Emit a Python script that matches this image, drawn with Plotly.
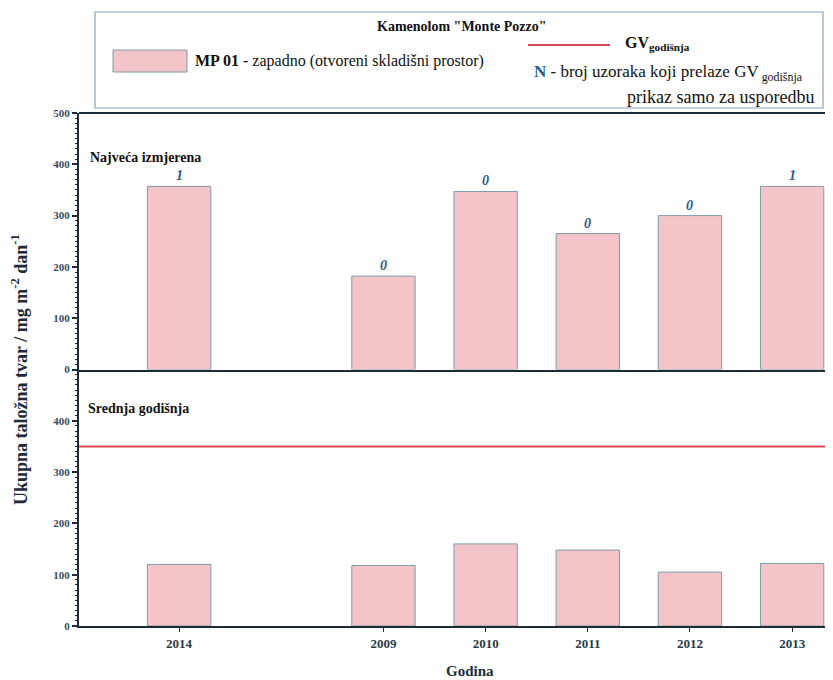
import plotly.graph_objects as go
from plotly.subplots import make_subplots

# ---- data ----
categories = ["2014", " ", "2009", "2010", "2011", "2012", "2013"]
max_values = [357, None, 182, 347, 265, 300, 357]
mean_values = [120, None, 118, 160, 148, 105, 122]
n_exceed = ["1", None, "0", "0", "0", "0", "1"]
gv_annual = 350
y_ticks_top = [0, 100, 200, 300, 400, 500]
y_ticks_bottom = [0, 100, 200, 300, 400]
x_tick_labels = [c for c in categories if c.strip()]

SERIF = "Liberation Serif, Times New Roman, serif"
PINK = "#f3c5c8"
EDGE = "#7f9aa8"
DARK = "#1c2b38"
BLUE = "#2a5a8a"
RED = "#d9474f"

OFF = 8  # page body margin
W, H = 833 - OFF, 680 - OFF
L, T = 79 - OFF, 113 - OFF
R = 0
B = H - (626 - OFF)
PW, PH = W - L - R, H - T - B


def px(x):
    return (x - OFF - L) / PW


def py(y):
    return (H - B - (y - OFF)) / PH


fig = make_subplots(rows=2, cols=1, shared_xaxes=True, vertical_spacing=0)

fig.add_trace(go.Bar(x=categories, y=max_values, width=0.62,
                     marker=dict(color=PINK, line=dict(color=EDGE, width=1)),
                     showlegend=False), row=1, col=1)
fig.add_trace(go.Bar(x=categories, y=mean_values, width=0.62,
                     marker=dict(color=PINK, line=dict(color=EDGE, width=1)),
                     showlegend=False), row=2, col=1)

# GV line in bottom panel
fig.add_shape(type="line", xref="x2 domain", yref="y2", x0=0, x1=1,
              y0=gv_annual, y1=gv_annual, line=dict(color=RED, width=2))

# N labels above top bars (category axes take serial numbers)
for i, (v, n) in enumerate(zip(max_values, n_exceed)):
    if v is None or n is None:
        continue
    fig.add_annotation(x=i, y=v, xref="x", yref="y", text="<b><i>" + n + "</i></b>",
                       showarrow=False, yanchor="bottom", yshift=1,
                       font=dict(family=SERIF, size=14, color=BLUE))

axis_common = dict(
    range=[0, 500], showgrid=False, zeroline=False,
    showline=True, linecolor=DARK, linewidth=2, ticks="outside", ticklen=5,
    tickcolor=DARK, tickwidth=1.5,
    minor=dict(ticks="outside", ticklen=2, dtick=10, tickcolor=DARK, tickwidth=1),
    tickfont=dict(family=SERIF, size=11, color="#3a4c5c", weight="bold"),
)
fig.update_yaxes(**axis_common, tickvals=y_ticks_top, row=1, col=1)
fig.update_yaxes(**axis_common, tickvals=y_ticks_bottom, row=2, col=1)

fig.update_xaxes(type="category", categoryorder="array", categoryarray=categories,
                 range=[-0.98, 6.4], showgrid=False, showline=True, linecolor=DARK,
                 linewidth=2, mirror=False, tickvals=x_tick_labels)
fig.update_xaxes(showticklabels=False, ticks="", row=1, col=1)
fig.update_xaxes(ticks="outside", ticklen=4, tickcolor=DARK,
                 tickfont=dict(family=SERIF, size=13, color="#2a3a48", weight="bold"),
                 row=2, col=1)

# top frame line
fig.add_shape(type="line", xref="paper", yref="paper", x0=0, x1=1, y0=1, y1=1,
              line=dict(color=DARK, width=2))

# ---- legend box ----
fig.add_shape(type="rect", xref="paper", yref="paper",
              x0=px(95), x1=px(823), y0=py(108), y1=py(12),
              line=dict(color="#8aa2b2", width=1.2), fillcolor="white")
fig.add_shape(type="rect", xref="paper", yref="paper",
              x0=px(113), x1=px(187), y0=py(72), y1=py(50),
              line=dict(color=EDGE, width=1), fillcolor=PINK)
fig.add_shape(type="line", xref="paper", yref="paper",
              x0=px(528), x1=px(610), y0=py(45), y1=py(45),
              line=dict(color=RED, width=2))

ann = []
ann.append(dict(x=px(462), y=py(27), text="<b>Kamenolom \"Monte Pozzo\"</b>",
                xanchor="center", font=dict(family=SERIF, size=14, color="#111")))
ann.append(dict(x=px(193), y=py(61),
                text="<b>MP 01</b> - zapadno (otvoreni skladišni prostor)",
                xanchor="left", font=dict(family=SERIF, size=16, color="#111")))
ann.append(dict(x=px(623), y=py(44), text="<b>GV<sub>godišnja</sub></b>",
                xanchor="left", font=dict(family=SERIF, size=16, color="#111")))
ann.append(dict(x=px(532), y=py(73),
                text="<b><span style='color:%s'>N</span></b> - broj uzoraka koji prelaze GV<sub> godišnja</sub>" % BLUE,
                xanchor="left", font=dict(family=SERIF, size=17, color="#111")))
ann.append(dict(x=px(816), y=py(97), text="prikaz samo za usporedbu",
                xanchor="right", font=dict(family=SERIF, size=18, color="#111")))

# panel labels
ann.append(dict(x=px(88), y=py(157), text="<b>Najveća izmjerena</b>",
                xanchor="left", font=dict(family=SERIF, size=14, color="#111")))
ann.append(dict(x=px(86), y=py(408), text="<b>Srednja godišnja</b>",
                xanchor="left", font=dict(family=SERIF, size=14, color="#111")))

# axis titles
ann.append(dict(x=px(19), y=py(370), textangle=-90,
                text="<b>Ukupna taložna tvar / mg m<sup>-2</sup> dan<sup>-1</sup></b>",
                xanchor="center", yanchor="middle",
                font=dict(family=SERIF, size=18, color="#1e2a3a")))
ann.append(dict(x=px(470), y=py(671), text="<b>Godina</b>",
                xanchor="center", yanchor="middle",
                font=dict(family=SERIF, size=15, color="#1c2b38")))

for a in ann:
    a.update(xref="paper", yref="paper", showarrow=False)
    if "yanchor" not in a:
        a["yanchor"] = "middle"
    fig.add_annotation(**a)

fig.update_layout(width=W, height=H, margin=dict(l=L, r=R, t=T, b=B),
                  paper_bgcolor="white", plot_bgcolor="white", bargap=0.38)

fig.write_html("out.html")
